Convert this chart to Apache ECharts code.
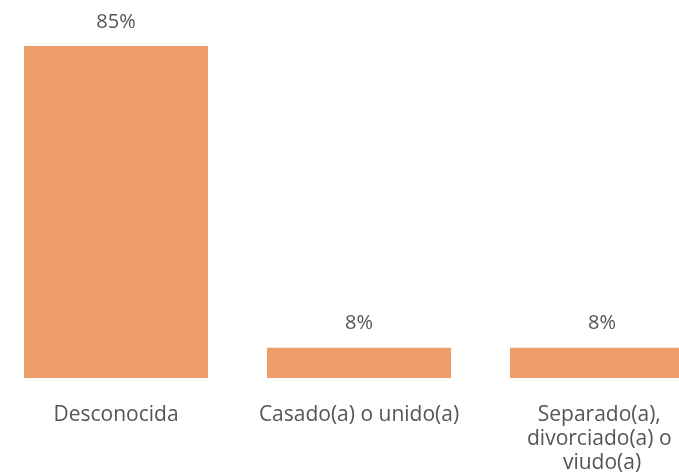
<!DOCTYPE html>
<html>
<head>
<meta charset="utf-8">
<script src="https://cdn.jsdelivr.net/npm/echarts@6/dist/echarts.min.js"></script>
<style>
html,body{margin:0;padding:0;background:#fff;}
#c{width:679px;height:475px;}
</style>
</head>
<body>
<div id="c"></div>
<script>
const categories = ["Desconocida", "Casado(a) o unido(a)", "Separado(a), divorciado(a) o viudo(a)"];
const values = [84.6, 7.7, 7.7];

const chart = echarts.init(document.getElementById('c'));
chart.setOption({
  animation: false,
  grid: { left: -5.5, width: 729, top: 46, bottom: 97, containLabel: false, outerBoundsMode: 'none' },
  xAxis: {
    type: 'category',
    data: categories,
    axisLine: { show: false },
    axisTick: { show: false },
    axisLabel: {
      interval: 0,
      margin: 25,
      color: '#555',
      fontSize: 21,
      fontFamily: 'Open Sans',
      lineHeight: 24,
      width: 215,
      overflow: 'break'
    }
  },
  yAxis: {
    type: 'value',
    min: 0,
    max: 84.6,
    show: false,
    splitLine: { show: false }
  },
  series: [{
    type: 'bar',
    data: values,
    barWidth: 184,
    itemStyle: { color: '#EE9E69' },
    label: {
      show: true,
      position: 'top',
      distance: 14,
      color: '#555',
      fontSize: 20,
      fontFamily: 'Open Sans',
      formatter: p => Math.round(p.value) + '%'
    }
  }]
});
</script>
</body>
</html>
